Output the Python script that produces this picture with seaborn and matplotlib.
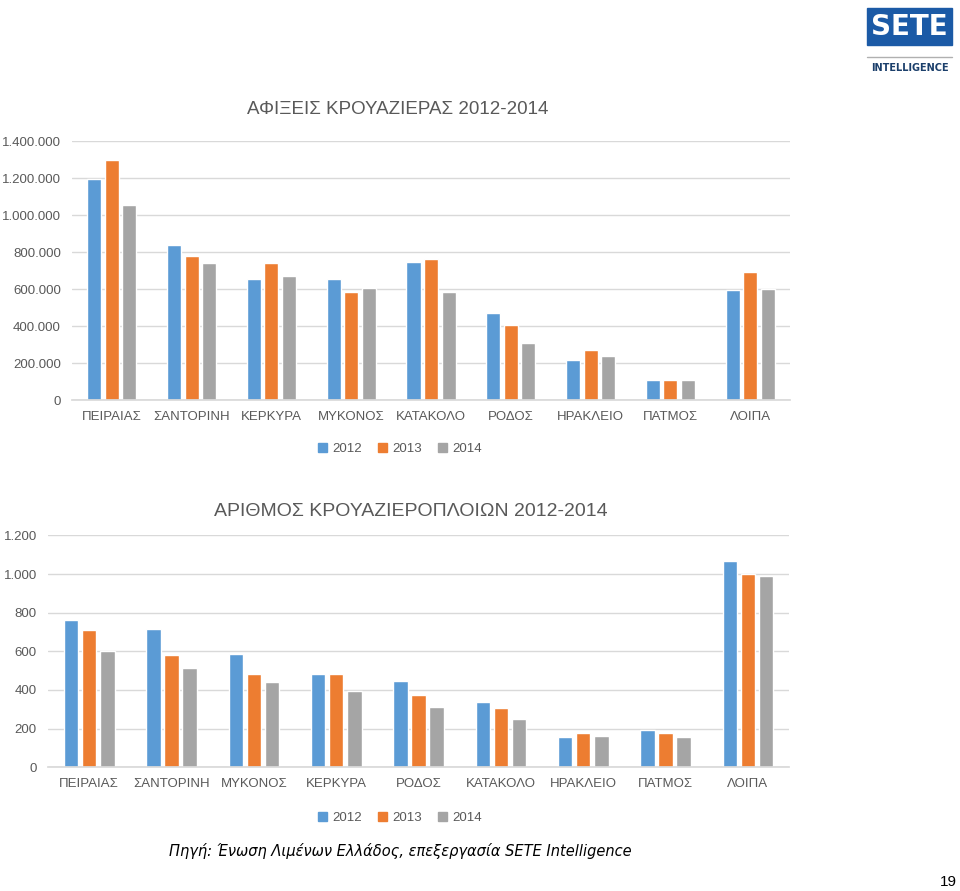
import pandas as pd
import matplotlib.pyplot as plt
import seaborn as sns
from matplotlib.ticker import FuncFormatter, MultipleLocator
from matplotlib.patches import Rectangle
from matplotlib.lines import Line2D

years = ["2012", "2013", "2014"]
colors = ["#5B9BD5", "#ED7D31", "#A5A5A5"]

# Αφίξεις κρουαζιέρας
ports_arr = ["ΠΕΙΡΑΙΑΣ", "ΣΑΝΤΟΡΙΝΗ", "ΚΕΡΚΥΡΑ", "ΜΥΚΟΝΟΣ", "ΚΑΤΑΚΟΛΟ",
             "ΡΟΔΟΣ", "ΗΡΑΚΛΕΙΟ", "ΠΑΤΜΟΣ", "ΛΟΙΠΑ"]
arr_2012 = [1195000, 836000, 654000, 654000, 748000, 470000, 214000, 110000, 596000]
arr_2013 = [1300000, 777000, 742000, 585000, 762000, 407000, 269000, 111000, 690000]
arr_2014 = [1052000, 740000, 670000, 605000, 582000, 308000, 240000, 106000, 600000]

# Αριθμός κρουαζιερόπλοιων
ports_ships = ["ΠΕΙΡΑΙΑΣ", "ΣΑΝΤΟΡΙΝΗ", "ΜΥΚΟΝΟΣ", "ΚΕΡΚΥΡΑ", "ΡΟΔΟΣ",
               "ΚΑΤΑΚΟΛΟ", "ΗΡΑΚΛΕΙΟ", "ΠΑΤΜΟΣ", "ΛΟΙΠΑ"]
ships_2012 = [763, 718, 585, 485, 447, 337, 155, 194, 1067]
ships_2013 = [711, 582, 485, 480, 373, 306, 178, 178, 998]
ships_2014 = [604, 513, 440, 394, 313, 251, 159, 155, 991]


def long_df(ports, series):
    rows = []
    for yr, vals in zip(years, series):
        for p, v in zip(ports, vals):
            rows.append({"port": p, "year": yr, "value": v})
    return pd.DataFrame(rows)


sns.set_theme(style="white")
plt.rcParams["font.family"] = ["Liberation Sans", "DejaVu Sans"]

fig = plt.figure(figsize=(9.6, 8.91), dpi=100)
tick_col = "#595959"
grid_col = "#D9D9D9"


def draw(ax, df, order, ymax, step, title, title_x, title_y, legend_x, legend_y, tsize):
    sns.barplot(data=df, x="port", y="value", hue="year", order=order,
                hue_order=years, palette=colors, width=0.66, gap=0.2,
                saturation=1, ax=ax, legend=False)
    ax.set_ylim(0, ymax)
    ax.set_xlim(-0.5, len(order) - 0.5)
    ax.yaxis.set_major_locator(MultipleLocator(step))
    ax.yaxis.set_major_formatter(FuncFormatter(lambda v, p: f"{v:,.0f}".replace(",", ".")))
    ax.grid(axis="y", color=grid_col, linewidth=1)
    ax.set_axisbelow(True)
    for s in ["top", "right", "left"]:
        ax.spines[s].set_visible(False)
    ax.spines["bottom"].set_color(grid_col)
    ax.tick_params(axis="both", length=0, labelsize=9.5, colors=tick_col, pad=8)
    ax.set_xlabel("")
    ax.set_ylabel("")
    ax.text(title_x, title_y, title, transform=ax.transAxes, ha="center", va="center",
            fontsize=tsize, color=tick_col)
    handles = [Rectangle((0, 0), 1, 1, color=c) for c in colors]
    ax.legend(handles, years, loc="center", bbox_to_anchor=(legend_x, legend_y), ncol=3,
              frameon=False, handlelength=0.7, handleheight=0.7, handletextpad=0.4,
              columnspacing=1.2, fontsize=9.5, labelcolor=tick_col)


ax1 = fig.add_axes([0.075, 0.551, 0.748, 0.2907])
draw(ax1, long_df(ports_arr, [arr_2012, arr_2013, arr_2014]), ports_arr,
     1400000, 200000, "ΑΦΙΞΕΙΣ ΚΡΟΥΑΖΙΕΡΑΣ 2012-2014", 0.454, 1.12, 0.457, -0.19, 13.5)

ax2 = fig.add_axes([0.05, 0.139, 0.772, 0.260])
draw(ax2, long_df(ports_ships, [ships_2012, ships_2013, ships_2014]), ports_ships,
     1200, 200, "ΑΡΙΘΜΟΣ ΚΡΟΥΑΖΙΕΡΟΠΛΟΙΩΝ 2012-2014", 0.489, 1.105, 0.475, -0.22, 14)

fig.text(0.417, 1 - 851 / 891, "Πηγή: Ένωση Λιμένων Ελλάδος, επεξεργασία SETE Intelligence",
         ha="center", va="center", fontsize=10.5, style="italic", family="DejaVu Sans",
         color="#000000")
fig.text(0.997, 1 - 882 / 891, "19", ha="right", va="center", fontsize=11, color="#000000")

# λογότυπο SETE
fig.patches.append(Rectangle((867 / 960, 1 - 45 / 891), 85 / 960, 37 / 891,
                             transform=fig.transFigure, color="#1B5AA6", zorder=5))
fig.text(909.5 / 960, 1 - 27 / 891, "SETE", ha="center", va="center", fontsize=20,
         weight="bold", family="DejaVu Sans", color="white", zorder=6)
fig.lines.append(Line2D([867 / 960, 952 / 960], [1 - 57 / 891, 1 - 57 / 891],
                        transform=fig.transFigure, color="#B0B0B0", linewidth=1))
fig.text(909.5 / 960, 1 - 68 / 891, "INTELLIGENCE", ha="center", va="center",
         fontsize=7, weight="bold", family="DejaVu Sans", color="#1B3F6B")

fig.savefig("out.png", dpi=100)
